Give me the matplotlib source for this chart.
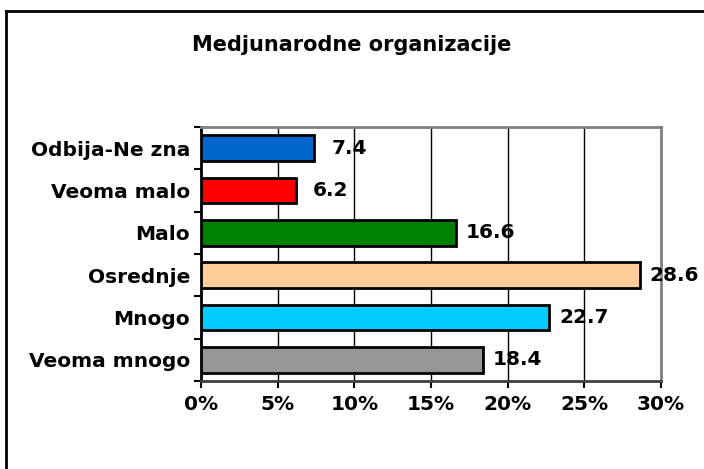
import matplotlib.pyplot as plt
from matplotlib.lines import Line2D

# Data (top to bottom as shown)
categories = ["Odbija-Ne zna", "Veoma malo", "Malo", "Osrednje", "Mnogo", "Veoma mnogo"]
values = [7.4, 6.2, 16.6, 28.6, 22.7, 18.4]
colors = ["#0066CC", "#FF0000", "#008000", "#FFCC99", "#00CCFF", "#969696"]
xticks = [0, 5, 10, 15, 20, 25, 30]

fig = plt.figure(figsize=(7.04, 4.69), dpi=100)
ax = fig.add_axes([201 / 704, 1 - 381 / 469, 460 / 704, 254 / 469])

ypos = list(range(len(categories)))[::-1]
ax.barh(ypos, values, height=0.6, color=colors, edgecolor="black", linewidth=2, zorder=3)

for y, v in zip(ypos, values):
    ax.annotate(f"{v}", xy=(v, y), xytext=(25, 0), textcoords="offset points",
                ha="center", va="center", fontsize=14.5, fontweight="bold", zorder=4)

# gridlines
for x in xticks[1:-1]:
    ax.axvline(x, color="black", linewidth=1, zorder=1)

ax.set_xlim(0, 30)
ax.set_ylim(-0.5, 5.5)
ax.set_xticks(xticks)
ax.set_xticklabels([f"{x}%" for x in xticks], fontsize=14.5, fontweight="bold")
ax.set_yticks(ypos)
ax.set_yticklabels(categories, fontsize=14.5, fontweight="bold")
ax.tick_params(axis="y", length=0, pad=8)
ax.set_yticks([i - 0.5 for i in range(len(categories) + 1)], minor=True)
ax.tick_params(axis="y", which="minor", length=5, width=1.5, direction="out")
ax.tick_params(axis="x", length=5, width=1.5, direction="out", pad=5)

ax.spines["left"].set_linewidth(2)
ax.spines["bottom"].set_linewidth(2)
ax.spines["bottom"].set_color("#404040")
ax.spines["top"].set_color("#808080")
ax.spines["right"].set_color("#808080")
ax.spines["top"].set_linewidth(2)
ax.spines["right"].set_linewidth(2)

fig.text(0.499, 1 - 45 / 469, "Medjunarodne organizacije", ha="center", va="center",
         fontsize=15, fontweight="bold")

# chart border (left and top visible)
x0, y0 = 6 / 704, 1 - 11 / 469
fig.add_artist(Line2D([x0, x0], [0, y0], color="black", linewidth=2))
fig.add_artist(Line2D([x0, 1], [y0, y0], color="black", linewidth=2))

fig.savefig("out.png", dpi=100)
